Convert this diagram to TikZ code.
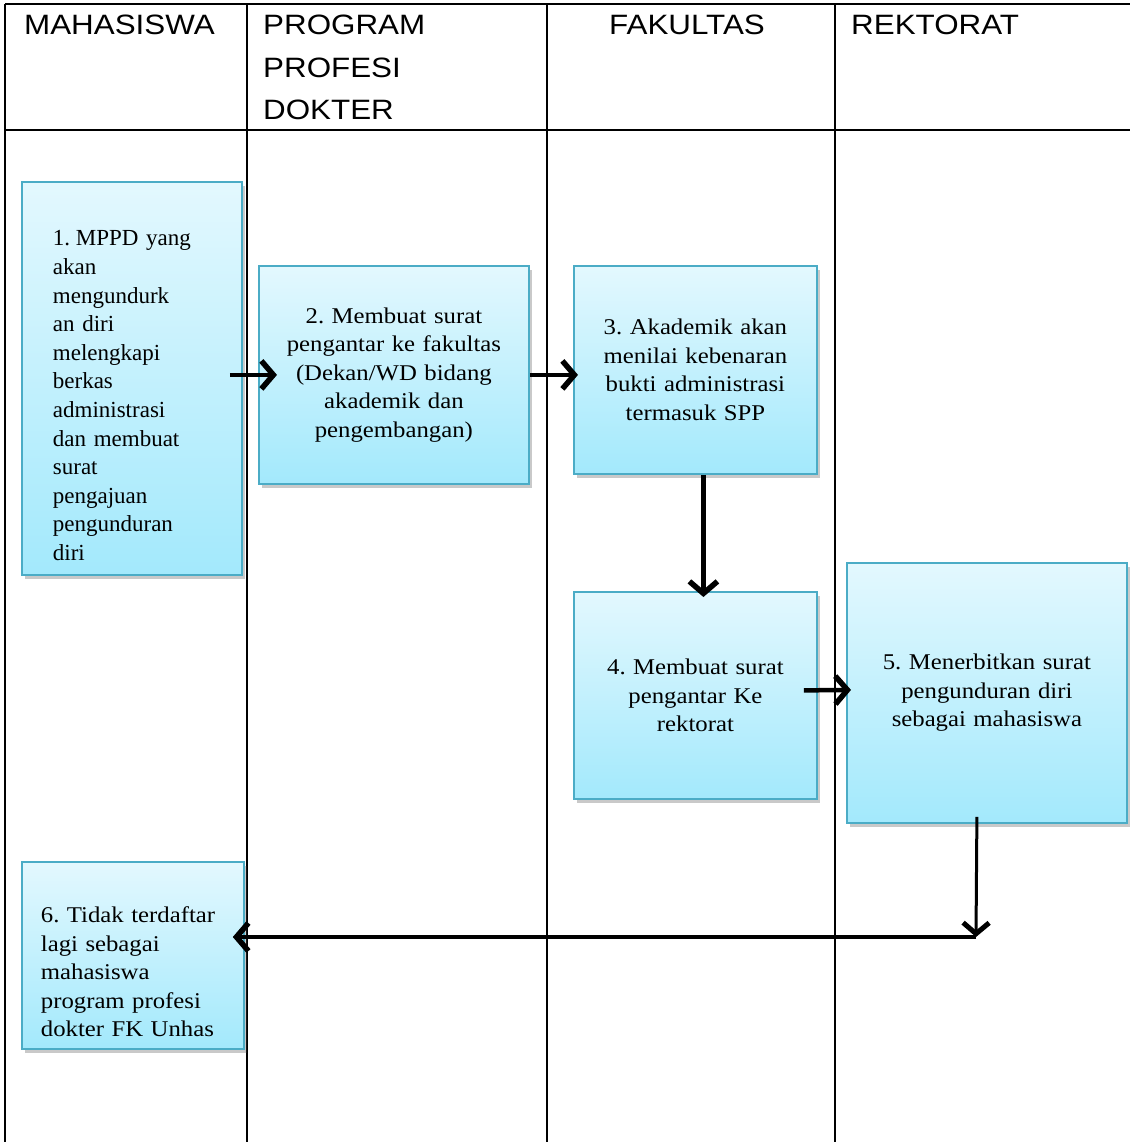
\documentclass[tikz,border=0pt]{standalone}
\usepackage{fontspec}
\setmainfont{Liberation Serif}
\newfontfamily\hdrfont[FakeStretch=1.12]{Liberation Sans}
\newfontfamily\boxfont[FakeStretch=1.1]{Liberation Serif}
\usetikzlibrary{arrows.meta,shadows}
\frenchspacing
\definecolor{boxborder}{HTML}{4BACC6}
\definecolor{boxtop}{HTML}{E3F8FE}
\definecolor{boxbot}{HTML}{A3E9FC}
\tikzset{
  grid/.style={line width=1.6pt, black},
  hdr/.style={anchor=north west, inner sep=0pt, align=left, font=\hdrfont\fontsize{28}{42.5}\selectfont},
  procbox/.style={anchor=north west, draw=boxborder, line width=1.8pt,
    top color=boxtop, bottom color=boxbot, inner sep=0pt,
    drop shadow={shadow xshift=3pt, shadow yshift=-4pt, opacity=0.3, fill=black!70},
    font=\boxfont\frenchspacing\fontsize{22.5}{28.5}\selectfont},
  flow/.style={line width=4.5pt, -{Straight Barb[length=12pt,width=28pt,line width=5.5pt]}},
  thinflow/.style={line width=3pt, -{Straight Barb[length=11pt,width=26pt,line width=5pt]}},
}
\begin{document}
\begin{tikzpicture}[x=1pt,y=-1pt]
\useasboundingbox (0,0) rectangle (1130,1142);
% swimlane table
\draw[grid] (5,4) -- (1130,4);
\draw[grid] (5,130) -- (1130,130);
\draw[grid] (5,4) -- (5,1142);
\draw[grid] (247,4) -- (247,1142);
\draw[grid] (547,4) -- (547,1142);
\draw[grid] (835,4) -- (835,1142);
% headers
\node[hdr] (h1) at (24,15) {MAHASISWA};
\node[hdr] (h2) at (263,15) {PROGRAM\\PROFESI\\DOKTER};
\node[hdr] (h3) at (609,15) {FAKULTAS};
\node[hdr] (h4) at (851,15) {REKTORAT};
% process boxes
\node[procbox, minimum width=220pt, minimum height=393pt, text width=158pt, align=left,
      font=\rmfamily\frenchspacing\fontsize{23}{28.6}\selectfont] (b1) at (21,181)
  {\hangindent=23pt\hangafter=1\rule{0pt}{50pt}\makebox[23pt][l]{1.}MPPD yang\\ akan\\ mengundurk\\ an diri\\ melengkapi\\ berkas\\ administrasi\\ dan membuat\\ surat\\ pengajuan\\ pengunduran\\ diri};
\node[procbox, minimum width=270pt, minimum height=218pt, text width=255pt, align=center] (b2) at (258,265)
  {2. Membuat surat\\ pengantar ke fakultas\\ (Dekan/WD bidang\\ akademik dan\\ pengembangan)};
\node[procbox, minimum width=243pt, minimum height=208pt, text width=236pt, align=center] (b3) at (573,265)
  {3. Akademik akan\\ menilai kebenaran\\ bukti administrasi\\ termasuk SPP};
\node[procbox, minimum width=243pt, minimum height=207pt, text width=236pt, align=center] (b4) at (573,591)
  {4. Membuat surat\\ pengantar Ke\\ rektorat};
\node[procbox, minimum width=280pt, minimum height=260pt, text width=265pt, align=center] (b5) at (846,562)
  {5. Menerbitkan surat\\ pengunduran diri\\ sebagai mahasiswa};
\node[procbox, minimum width=222pt, minimum height=187pt, text width=184pt, align=left] (b6) at (21,861)
  {\rule{0pt}{49pt}6. Tidak terdaftar\\ lagi sebagai\\ mahasiswa\\ program profesi\\ dokter FK Unhas};
% connectors
\coordinate (c) at (976,937);
\draw[flow] ([xshift=-13pt]b1.east |- b2.west) -- ([xshift=19pt]b2.west);
\draw[flow] (b2.east) -- ([xshift=5pt]b3.west |- b2.east);
\draw[flow] ([xshift=8pt]b3.south) -- ([xshift=8pt,yshift=-6pt]b4.north);
\draw[flow] ([xshift=-14pt,yshift=5pt]b4.east) -- ([xshift=5pt,yshift=3pt]b5.west);
\draw[thinflow] ([xshift=-10pt,yshift=7pt]b5.south) -- (c);
\draw[flow] (c) -- ([xshift=-12pt]b6.east |- c);
\end{tikzpicture}
\end{document}
